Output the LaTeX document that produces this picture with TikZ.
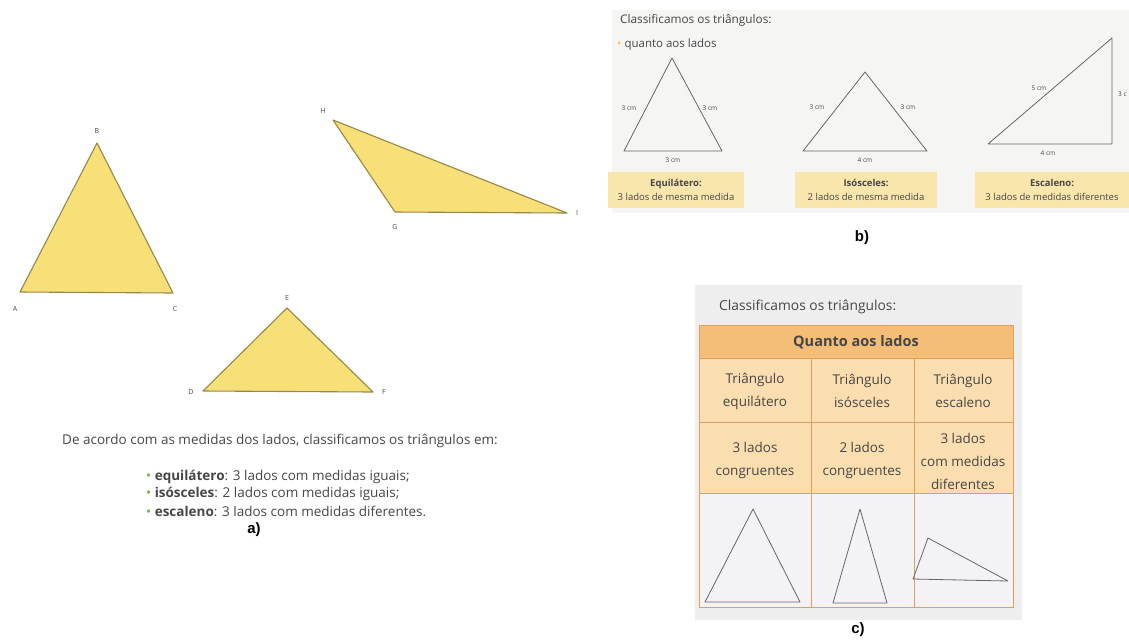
\documentclass[tikz,border=0pt]{standalone}
\usepackage{fontspec}
\setmainfont{Open Sans}
\newfontfamily\labfont{Liberation Sans}
\definecolor{triyel}{RGB}{247,224,120}
\definecolor{triedge}{RGB}{150,135,70}
\definecolor{bulgreen}{RGB}{120,175,60}
\definecolor{boxtan}{RGB}{249,230,172}
\definecolor{panelgray}{RGB}{245,245,243}
\definecolor{hdrorange}{RGB}{244,190,120}
\definecolor{cellpeach}{RGB}{251,222,176}
\definecolor{cellborder}{RGB}{222,160,95}
\definecolor{pagegray}{RGB}{238,238,238}
\definecolor{lightcell}{RGB}{243,243,245}
\definecolor{txtgray}{RGB}{70,70,70}
\tikzset{
  yeltri/.style={fill=triyel,draw=triedge,line width=1.1pt,line join=round},
  vlab/.style={font=\fontsize{7}{8}\selectfont,text=txtgray,inner sep=0pt},
  outtri/.style={draw=gray!80!black,line width=0.8pt,line join=round},
  smalltxt/.style={font=\fontsize{6.5}{8}\selectfont,text=txtgray,inner sep=0pt},
  boxtxt/.style={font=\fontsize{9.5}{14}\selectfont,text=txtgray,align=center,inner sep=0pt},
  celltxt/.style={font=\fontsize{13.5}{23}\selectfont,text=txtgray,align=center,inner sep=0pt},
  atext/.style={font=\fontsize{13.5}{16}\selectfont,text=txtgray,inner sep=0pt,anchor=west},
  panlab/.style={font=\labfont\bfseries\fontsize{15}{17}\selectfont,inner sep=0pt}
}
\begin{document}
\begin{tikzpicture}[x=1pt,y=-1pt]
\useasboundingbox (0,0) rectangle (1129,641);
% ===== panel a =====
\coordinate (A) at (20,292); \coordinate (B) at (97,143); \coordinate (C) at (173,293);
\filldraw[yeltri] (A) -- (B) -- (C) -- cycle;
\node[vlab] (lA) at (15,309) {A};
\node[vlab] (lB) at (97,131) {B};
\node[vlab] (lC) at (175,309) {C};
\coordinate (H) at (333,120); \coordinate (G) at (395,212); \coordinate (I) at (567,213);
\filldraw[yeltri] (H) -- (G) -- (I) -- cycle;
\node[vlab] (lH) at (323,111) {H};
\node[vlab] (lG) at (395,227) {G};
\node[vlab] (lI) at (577,213) {I};
\coordinate (D) at (203,391); \coordinate (E) at (287,308); \coordinate (F) at (373,392);
\filldraw[yeltri] (D) -- (E) -- (F) -- cycle;
\node[vlab] (lD) at (191,392) {D};
\node[vlab] (lE) at (287,298) {E};
\node[vlab] (lF) at (384,392) {F};
\node[atext] (intro) at (62,441) {De acordo com as medidas dos lados, classificamos os triângulos em:};
\node[atext] (b1) at (146,477) {{\color{bulgreen}•} \textbf{equilátero}: 3 lados com medidas iguais;};
\node[atext] (b2) at (146,494) {{\color{bulgreen}•} \textbf{isósceles}: 2 lados com medidas iguais;};
\node[atext] (b3) at (146,511) {{\color{bulgreen}•} \textbf{escaleno}: 3 lados com medidas diferentes.};
\node[panlab] (la) at (254,530) {a)};
% ===== panel b =====
\fill[panelgray] (612,10) rectangle (1129,213);
\node[anchor=west,font=\fontsize{11.8}{13}\selectfont,text=txtgray,inner sep=0pt] (bt) at (620,20) {Classificamos os triângulos:};
\node[anchor=west,font=\fontsize{11.5}{13}\selectfont,text=txtgray,inner sep=0pt] (bq) at (617,45) {{\color{triyel!70!orange}•} quanto aos lados};
% equilateral
\coordinate (b1a) at (624,151); \coordinate (b1b) at (672,58); \coordinate (b1c) at (722,151);
\draw[outtri] (b1a) -- (b1b) -- (b1c) -- cycle;
\node[smalltxt] (b1l) at (629,108) {3 cm};
\node[smalltxt] (b1r) at (710,108) {3 cm};
\node[smalltxt] (b1d) at (673,160) {3 cm};
\node[fill=boxtan,minimum width=136pt,minimum height=36pt,inner sep=0pt] (bx1) at (676,190) {};
\node[boxtxt] (bx1t) at (bx1) {\textbf{Equilátero:}\\3 lados de mesma medida};
% isosceles
\coordinate (b2a) at (803,151); \coordinate (b2b) at (865,72); \coordinate (b2c) at (927,151);
\draw[outtri] (b2a) -- (b2b) -- (b2c) -- cycle;
\node[smalltxt] (b2l) at (817,107) {3 cm};
\node[smalltxt] (b2r) at (908,107) {3 cm};
\node[smalltxt] (b2d) at (865,160) {4 cm};
\node[fill=boxtan,minimum width=142pt,minimum height=36pt,inner sep=0pt] (bx2) at (866,190) {};
\node[boxtxt] (bx2t) at (bx2) {\textbf{Isósceles:}\\2 lados de mesma medida};
% scalene
\coordinate (b3a) at (988,144); \coordinate (b3b) at (1112,38); \coordinate (b3c) at (1112,144);
\draw[outtri] (b3a) -- (b3b) -- (b3c) -- cycle;
\node[smalltxt] (b3h) at (1039,88) {5 cm};
\node[smalltxt,anchor=west] (b3v) at (1118,94) {3 c};
\node[smalltxt] (b3d) at (1048,153) {4 cm};
\node[fill=boxtan,minimum width=154pt,minimum height=36pt,inner sep=0pt] (bx3) at (1052,190) {};
\node[boxtxt] (bx3t) at (bx3) {\textbf{Escaleno:}\\3 lados de medidas diferentes};
\node[panlab] (lb) at (862,238) {b)};
% ===== panel c =====
\fill[pagegray] (695,285) rectangle (1022,620);
\node[anchor=west,font=\fontsize{13.8}{15}\selectfont,text=txtgray,inner sep=0pt] (ct) at (719,307) {Classificamos os triângulos:};
\fill[hdrorange] (699,325) rectangle (1013,358);
\fill[cellpeach] (699,358) rectangle (1013,493);
\fill[lightcell] (699,493) rectangle (1013,607);
\draw[cellborder,line width=0.8pt] (699,325) rectangle (1013,607);
\draw[cellborder,line width=0.8pt] (699,358) -- (1013,358) (699,422) -- (1013,422) (699,493) -- (1013,493);
\draw[cellborder,line width=0.8pt] (811,358) -- (811,607) (914,358) -- (914,607);
\node[celltxt,font=\fontsize{14.5}{17}\selectfont] (hdr) at (856,342) {\textbf{Quanto aos lados}};
\node[celltxt] (c11) at (755,391) {Triângulo\\equilátero};
\node[celltxt] (c12) at (862,391) {Triângulo\\isósceles};
\node[celltxt] (c13) at (963,391) {Triângulo\\escaleno};
\node[celltxt] (c21) at (755,460) {3 lados\\congruentes};
\node[celltxt] (c22) at (862,460) {2 lados\\congruentes};
\node[celltxt] (c23) at (963,461) {3 lados\\com medidas\\diferentes};
\coordinate (t1a) at (705,602); \coordinate (t1b) at (753,509); \coordinate (t1c) at (800,602);
\draw[outtri] (t1a) -- (t1b) -- (t1c) -- cycle;
\coordinate (t2a) at (833,603); \coordinate (t2b) at (860,509); \coordinate (t2c) at (887,603);
\draw[outtri] (t2a) -- (t2b) -- (t2c) -- cycle;
\coordinate (t3a) at (913,579); \coordinate (t3b) at (928,538); \coordinate (t3c) at (1008,581);
\draw[outtri] (t3a) -- (t3b) -- (t3c) -- cycle;
\node[panlab] (lc) at (858,630) {c)};
\end{tikzpicture}
\end{document}
